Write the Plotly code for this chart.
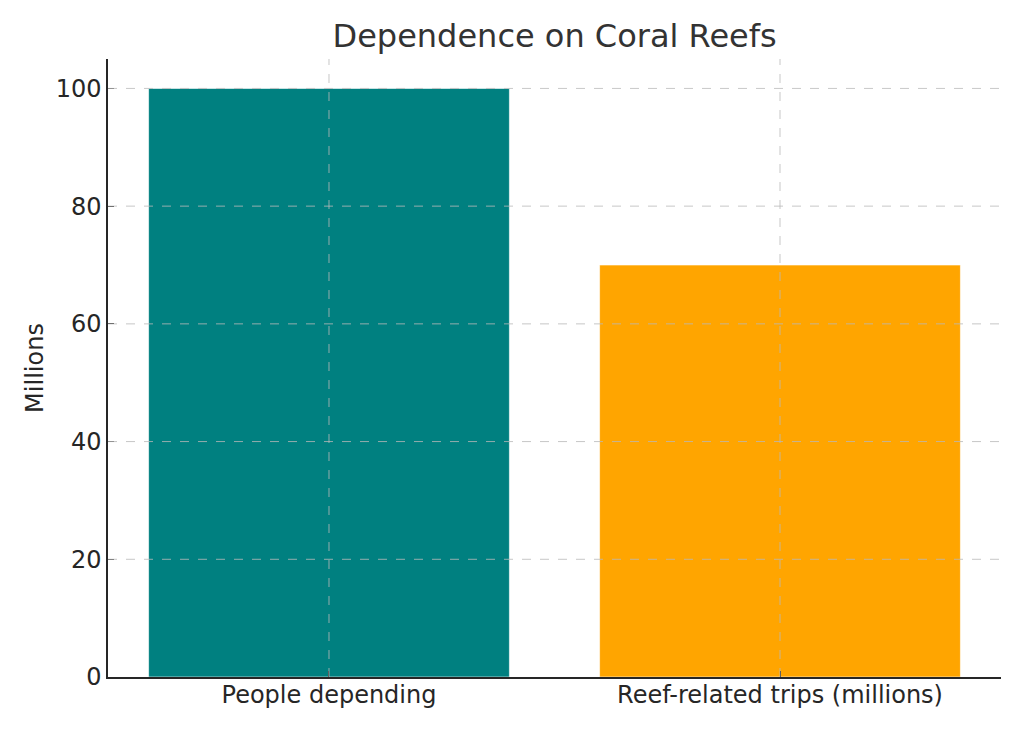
import plotly.graph_objects as go

# values
categories = ["People depending", "Reef-related trips (millions)"]
values = [100, 70]
bar_colors = ["#008080", "#FFA500"]
y_ticks = [0, 20, 40, 60, 80, 100]

TEXT = "#262626"
GRID = "rgba(185,185,185,0.8)"

fig = go.Figure(go.Bar(
    x=categories, y=values, width=0.8,
    marker=dict(color=bar_colors, line=dict(width=1, color="rgba(255,255,255,0.6)")),
    showlegend=False, hoverinfo="x+y",
))

# matplotlib draws the grid over the bars here, so the grid is drawn as shapes on top
shapes = []
for t in y_ticks[1:]:
    shapes.append(dict(type="line", xref="paper", yref="y", x0=0, x1=1, y0=t, y1=t,
                       line=dict(color=GRID, width=1, dash="dash"), layer="above"))
for c in categories:
    shapes.append(dict(type="line", xref="x", yref="paper", x0=c, x1=c, y0=0, y1=1,
                       line=dict(color=GRID, width=1, dash="dash"), layer="above"))

# the page has an 8px body margin, so the figure is sized to fit inside it
fig.update_layout(
    width=1016, height=723,
    paper_bgcolor="white", plot_bgcolor="white",
    font=dict(family="DejaVu Sans", color=TEXT, size=24),
    title=dict(text="Dependence on Coral Reefs", x=0.538, xanchor="center",
               y=0.962, yanchor="middle", font=dict(size=32, color="#333333")),
    margin=dict(l=100, r=23, t=51, b=54),
    shapes=shapes,
    xaxis=dict(
        range=[-0.49, 1.49], showgrid=False, showline=True, linecolor=TEXT, linewidth=1.5,
        ticks="inside", ticklen=6, tickcolor=TEXT, tickfont=dict(size=24, color=TEXT),
        ticklabelstandoff=-5, zeroline=False, layer="above traces",
    ),
    yaxis=dict(
        range=[0, 105], tickvals=y_ticks, showgrid=False, showline=True, linecolor=TEXT,
        linewidth=1.5, ticks="inside", ticklen=6, tickcolor=TEXT,
        tickfont=dict(size=24, color=TEXT), zeroline=False, layer="above traces",
        title=dict(text="Millions", font=dict(size=24, color=TEXT), standoff=5),
    ),
)

fig.write_html("out.html")
